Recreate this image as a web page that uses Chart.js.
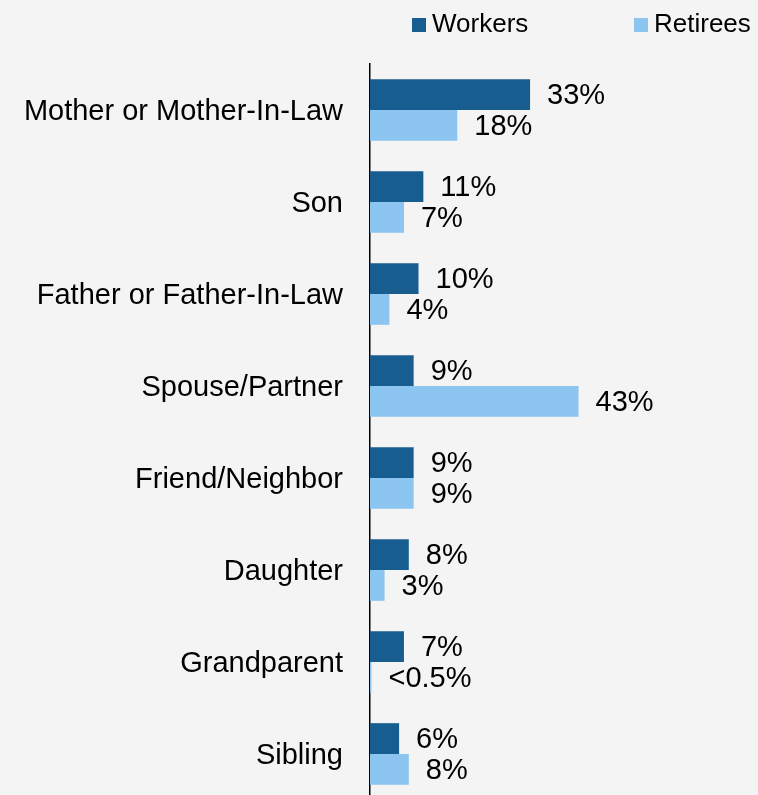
<!DOCTYPE html>
<html>

<head>
    <title>Who Receives Care</title>
    <script src="https://cdn.jsdelivr.net/npm/chart.js"></script>
    <style>
        html, body { margin: 0; padding: 0; background: #f4f4f4; overflow: hidden; }
        #wrap { width: 758px; height: 795px; overflow: hidden; }
    </style>
</head>

<body>
    <div id="wrap">
        <canvas id="careChart" width="758" height="800"></canvas>
    </div>

    <script>
        // care recipients, percent of respondents
        var categories = ['Mother or Mother-In-Law', 'Son', 'Father or Father-In-Law', 'Spouse/Partner',
            'Friend/Neighbor', 'Daughter', 'Grandparent', 'Sibling'];
        var workers = [33, 11, 10, 9, 9, 8, 7, 6];
        var retirees = [18, 7, 4, 43, 9, 3, 0.3, 8];

        var FONT = '"Liberation Sans", Arial, sans-serif';

        function pctLabel(v) {
            return v < 0.5 ? '<0.5%' : v + '%';
        }

        // value labels to the right of each bar
        const barLabels = {
            id: 'barLabels',
            afterDatasetsDraw(chart) {
                const ctx = chart.ctx;
                ctx.save();
                ctx.font = '29px ' + FONT;
                ctx.fillStyle = '#000';
                ctx.textAlign = 'left';
                ctx.textBaseline = 'middle';
                chart.data.datasets.forEach((ds, i) => {
                    chart.getDatasetMeta(i).data.forEach((bar, j) => {
                        ctx.fillText(pctLabel(ds.data[j]), bar.x + 17, bar.y + 1.5);
                    });
                });
                ctx.restore();
            }
        };

        // legend row across the top right
        const legendRow = {
            id: 'legendRow',
            afterDraw(chart) {
                const ctx = chart.ctx;
                const starts = [412, 634];
                ctx.save();
                ctx.font = '26px ' + FONT;
                ctx.textAlign = 'left';
                ctx.textBaseline = 'middle';
                chart.data.datasets.forEach((ds, i) => {
                    ctx.fillStyle = ds.backgroundColor;
                    ctx.fillRect(starts[i], 18, 14, 14);
                    ctx.fillStyle = '#000';
                    ctx.fillText(ds.label, starts[i] + 20, 25);
                });
                ctx.restore();
            }
        };

        new Chart(document.getElementById('careChart'), {
            type: 'bar',
            data: {
                labels: categories,
                datasets: [
                    {
                        label: 'Workers',
                        data: workers,
                        backgroundColor: '#175d8f'
                    },
                    {
                        label: 'Retirees',
                        data: retirees,
                        backgroundColor: '#8bc5f0'
                    }
                ]
            },
            options: {
                indexAxis: 'y',
                responsive: false,
                animation: false,
                categoryPercentage: 0.67,
                barPercentage: 1,
                layout: { padding: { top: 64, left: 0, right: 0, bottom: 0 } },
                plugins: {
                    legend: { display: false },
                    tooltip: { enabled: false }
                },
                scales: {
                    x: {
                        display: false,
                        min: 0,
                        max: 80
                    },
                    y: {
                        afterFit(scale) {
                            scale.width = 370;
                            // let the bands run to the bottom edge
                            scale.paddingTop = 0;
                            scale.paddingBottom = 0;
                        },
                        grid: { display: false, drawTicks: false },
                        border: { display: true, color: '#000', width: 1.5 },
                        ticks: {
                            padding: 27,
                            labelOffset: 2,
                            color: '#000',
                            font: { family: FONT, size: 29 }
                        }
                    }
                }
            },
            plugins: [barLabels, legendRow]
        });
    </script>
</body>

</html>
